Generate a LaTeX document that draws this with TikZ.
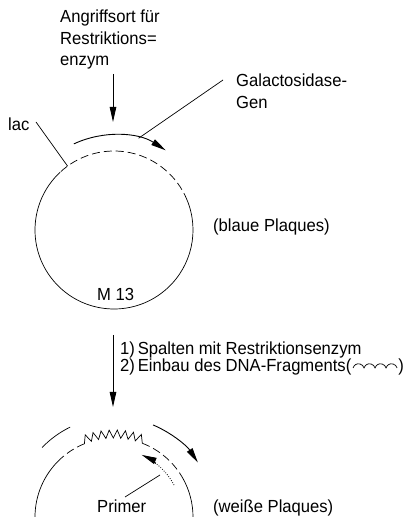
\documentclass[tikz,border=0pt]{standalone}
\usepackage{fontspec}
\setmainfont[FakeStretch=0.95]{Liberation Sans}
\usetikzlibrary{arrows.meta,calc}
\begin{document}
\begin{tikzpicture}[x=1pt,y=1pt,
  lbl/.style={anchor=base west, inner sep=0pt, font=\fontsize{17.5}{19}\selectfont},
  ln/.style={line width=0.7pt},
  dsh/.style={line width=0.7pt, dash pattern=on 8pt off 4pt},
  dots/.style={line width=0.8pt, dash pattern=on 0.8pt off 1.6pt},
  arr/.style={line width=0.9pt, -{Triangle[length=15pt,width=6.5pt]}},
]
\useasboundingbox (0,0) rectangle (407,517);

% ---------- top figure ----------
\coordinate (c1) at (114,287);
\draw[ln]  ($(c1)+(133:79)$) arc[start angle=133,end angle=382,radius=79];
\draw[dsh] ($(c1)+(22:79)$) arc[start angle=22,end angle=133,radius=79];
\draw[arr] ($(c1)+(115:95)$) arc[start angle=115,end angle=57,radius=95];

\node[lbl] (a1) at (60,494) {Angriffsort für};
\node[lbl] (a2) at (60,472.5) {Restriktions=};
\node[lbl] (a3) at (60,451) {enzym};
\coordinate (a0) at (113,443);
\coordinate (a9) at (113,395);
\draw[arr] (a0) -- (a9);

\node[lbl] (lac) at (8,386) {lac};
\coordinate (lacs) at (36,395);
\coordinate (lace) at ($(c1)+(126:79)$);
\draw[ln] (lacs) -- (lace);

\node[lbl] (g1) at (236,430) {Galactosidase-};
\node[lbl] (g2) at (236,408) {Gen};
\coordinate (gs) at (223,437);
\coordinate (ge) at ($(c1)+(75:95)$);
\draw[ln] (gs) -- (ge);

\node[lbl] (blau) at (213,285) {(blaue Plaques)};
\node[lbl] (m13) at (97,216) {M 13};

% ---------- step arrow ----------
\coordinate (s0) at (113,182);
\coordinate (s9) at (113,110);
\draw[arr] (s0) -- (s9);
\node[lbl] (s1) at (120,162.5) {1)\,Spalten mit Restriktionsenzym};
\node[lbl] (s2) at (120,145.5) {2)\,Einbau des DNA-Fragments(};
\coordinate (w0) at ($(s2.base east)+(1.5,3.5)$);
\draw[ln] (w0) arc[start angle=165,end angle=15,radius=5.7]
               arc[start angle=165,end angle=15,radius=5.7]
               arc[start angle=165,end angle=15,radius=5.7]
               arc[start angle=165,end angle=15,radius=5.7] coordinate (w1);
\node[lbl] (s3) at ($(w1)+(1,-3.5)$) {)};

% ---------- bottom figure ----------
\coordinate (c2) at (114,0);
\draw[ln]  ($(c2)+(133:79)$) arc[start angle=133,end angle=180,radius=79];
\draw[dsh] ($(c2)+(112:79)$) arc[start angle=112,end angle=133,radius=79];
\draw[ln] ($(c2)+(112:79)$)
  \foreach \i in {1,...,16} { -- ($(c2)+({112-\i*2.6875}:{79+8*mod(\i,2)})$) };
\draw[dsh] ($(c2)+(69:79)$) arc[start angle=69,end angle=29,radius=79];
\draw[ln]  ($(c2)+(29:79)$) arc[start angle=29,end angle=0,radius=79];

\draw[ln]  ($(c2)+(136:100)$) arc[start angle=136,end angle=116,radius=100];
\draw[arr] ($(c2)+(67:100)$) arc[start angle=67,end angle=33,radius=100];

\draw[dots] ($(c2)+(28:68)$) arc[start angle=28,end angle=54,radius=68];
\draw[arr] ($(c2)+(52:68)$) arc[start angle=52,end angle=66,radius=68];

\node[lbl] (primer) at (97,5) {Primer};
\coordinate (ps) at (125,20);
\coordinate (pe) at (160,42);
\draw[ln] (ps) -- (pe);
\node[lbl] (weiss) at (213,5) {(weiße Plaques)};
\end{tikzpicture}
\end{document}
